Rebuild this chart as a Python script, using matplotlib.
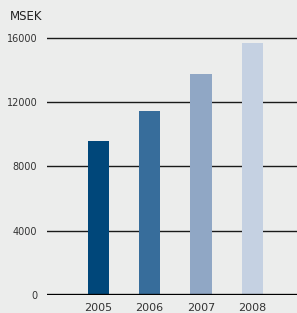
import matplotlib
matplotlib.use('Agg')
import matplotlib.pyplot as plt

# Data
years = ['2005', '2006', '2007', '2008']
values = [9570, 11430, 13730, 15660]
colors = ['#00477a', '#376d9b', '#90a7c5', '#c5d1e2']
yticks = [0, 4000, 8000, 12000, 16000]

bg = '#ecedec'

fig = plt.figure(figsize=(2.97, 3.13), dpi=100, facecolor=bg)
ax = fig.add_axes([47 / 297, 1 - 295 / 313, 250 / 297, 265.5 / 313])
ax.set_facecolor(bg)

x = range(len(years))
ax.bar(x, values, width=0.41, color=colors, zorder=3)

# gridlines behind the bars
for t in yticks[1:]:
    ax.axhline(t, color='#1a1a1a', linewidth=1.0, zorder=1)
ax.axhline(0, color='black', linewidth=2.4, zorder=4)

ax.set_xlim(-1.0, 3.87)
ax.set_ylim(0, 16500)

ax.set_yticks(yticks)
ax.set_yticklabels([str(t) for t in yticks], fontsize=7, color='#333333')
ax.set_xticks(list(x))
ax.set_xticklabels(years, fontsize=8, color='#333333')
ax.tick_params(axis='y', length=0, pad=7)
ax.tick_params(axis='x', length=0, pad=6)

for s in ax.spines.values():
    s.set_visible(False)

fig.text(10 / 297, 1 - 17 / 313, 'MSEK', fontsize=8.5, color='#222222',
         ha='left', va='center')

fig.savefig('out.png', dpi=100, facecolor=bg)
